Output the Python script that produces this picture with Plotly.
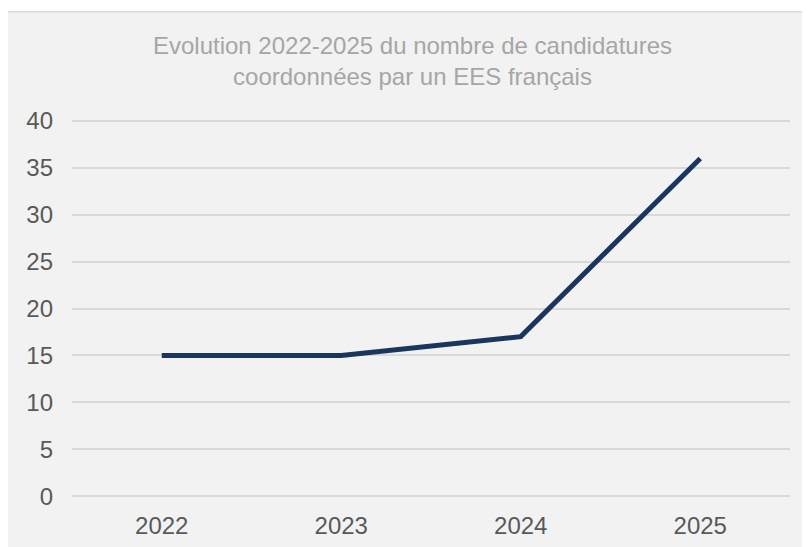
import plotly.graph_objects as go

years = ["2022", "2023", "2024", "2025"]
candidatures = [15, 15, 17, 36]
y_ticks = [0, 5, 10, 15, 20, 25, 30, 35, 40]

W, H = 810, 547
OFF = 8  # page body margin
PXU = 9.375  # px per unit
PAD = 0.2
L, R = 72 - OFF, 790 - OFF
T = 121 - OFF - PAD * PXU
B = 496 - OFF + PAD * PXU
pw, ph = R - L, B - T

fig = go.Figure()
fig.add_trace(go.Scatter(
    x=years, y=candidatures, mode="lines",
    line=dict(color="#1b365d", width=5),
    hoverinfo="skip", showlegend=False,
))

def px_x(p):
    return (p - OFF - L) / pw

def px_y(p):
    return (B - (p - OFF)) / ph

fig.add_shape(type="rect", xref="paper", yref="paper",
              x0=px_x(7), x1=px_x(840), y0=px_y(580), y1=px_y(12),
              fillcolor="#f2f2f2", line=dict(color="#d9d9d9", width=1.5),
              layer="below")

fig.update_layout(
    width=W, height=H,
    margin=dict(l=L, r=W - R, t=T, b=H - B, pad=0),
    paper_bgcolor="white",
    plot_bgcolor="rgba(0,0,0,0)",
    font=dict(family="Liberation Sans, Arial, sans-serif", color="#595959"),
    title=dict(
        text="Evolution 2022-2025 du nombre de candidatures<br>coordonnées par un EES français",
        x=(412.5 - OFF) / W, xref="container", xanchor="center",
        y=1 - 46 / H, yref="container", yanchor="top",
        font=dict(size=24, color="#a6a6a6"),
    ),
    xaxis=dict(
        type="category", range=[-0.5, 3.5],
        showgrid=False, showline=False, zeroline=False,
        ticks="", tickfont=dict(size=24, color="#595959"),
        ticklabelstandoff=11,
    ),
    yaxis=dict(
        range=[-PAD, 40 + PAD], tickvals=y_ticks, ticktext=[str(v) for v in y_ticks],
        showgrid=True, gridcolor="#d9d9d9", gridwidth=1.5,
        zeroline=False, showline=False, ticks="",
        tickfont=dict(size=24, color="#595959"),
        ticklabelstandoff=18,
    ),
)

fig.write_html("out.html")
